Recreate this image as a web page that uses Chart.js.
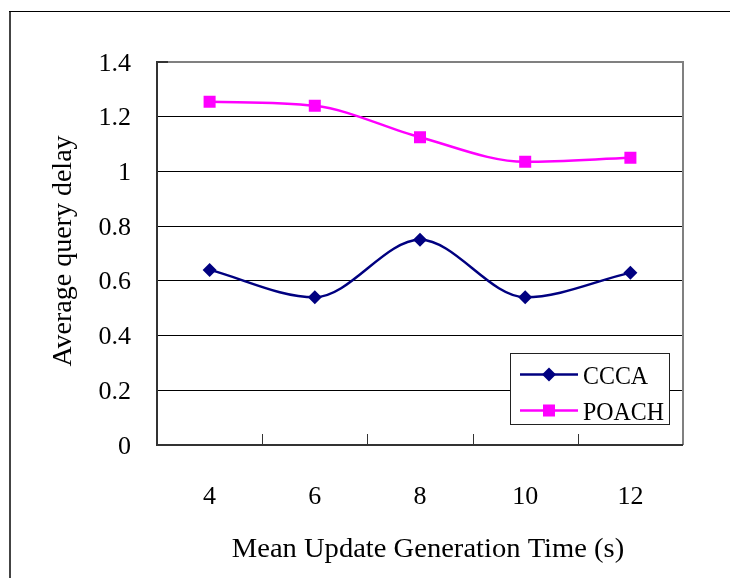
<!DOCTYPE html>
<html>
<head>
<meta charset="utf-8">
<script src="https://cdn.jsdelivr.net/npm/chart.js@4/dist/chart.umd.min.js"></script>
<style>
html,body{margin:0;padding:0;background:#fff;}
#wrap{position:relative;width:730px;height:578px;}
canvas{display:block;}
</style>
</head>
<body>
<div id="wrap"><canvas id="c" width="730" height="578"></canvas></div>
<script>
// ---- data ----
const categories = ['4', '6', '8', '10', '12'];
const cccaValues = [0.64, 0.54, 0.75, 0.54, 0.63];
const poachValues = [1.255, 1.24, 1.125, 1.035, 1.05];
const seriesNames = ['CCCA', 'POACH'];
const xTitle = 'Mean Update Generation Time (s)';
const yTitle = 'Average query delay';
const yMin = 0, yMax = 1.4, yStep = 0.2;

const FONT = '"Liberation Serif", "Times New Roman", serif';

function stretchText(ctx, text, x, y, sx, size, align, rot) {
  ctx.save();
  ctx.translate(x, y);
  if (rot) ctx.rotate(rot);
  ctx.scale(sx, 1);
  ctx.font = size + 'px ' + FONT;
  ctx.fillStyle = '#000';
  ctx.textAlign = align;
  ctx.textBaseline = 'alphabetic';
  ctx.fillText(text, 0, 0);
  ctx.restore();
}

const framePlugin = {
  id: 'frame',
  beforeDatasetsDraw(chart) {
    const {ctx, chartArea: a, scales: {x, y}} = chart;
    ctx.save();
    // outer frame (left + top)
    ctx.fillStyle = '#444';
    ctx.fillRect(9, 11, 2, 578 - 11);
    ctx.fillStyle = '#000';
    ctx.fillRect(9, 11, 730 - 9, 1);
    // plot area border
    ctx.fillStyle = '#808080';
    ctx.fillRect(a.left - 1, a.top - 1, a.right - a.left + 1, 2);
    ctx.fillRect(a.right - 1, a.top - 1, 2, a.bottom - a.top + 1);
    ctx.fillStyle = '#333';
    ctx.fillRect(a.left - 1, a.top - 1, 2, a.bottom - a.top + 1);
    ctx.fillRect(a.left - 1, a.bottom - 1, a.right - a.left + 1, 2);
    // inward y tick at top
    ctx.fillRect(a.left - 1, a.top - 1, 12, 2);
    // inward x ticks at category boundaries
    ctx.strokeStyle = '#333';
    ctx.lineWidth = 1;
    for (let i = 0; i < categories.length - 1; i++) {
      const bx = Math.round((x.getPixelForValue(i) + x.getPixelForValue(i + 1)) / 2) + 0.5;
      ctx.beginPath();
      ctx.moveTo(bx, a.bottom);
      ctx.lineTo(bx, a.bottom - 11);
      ctx.stroke();
    }
    ctx.restore();
  },
  afterDraw(chart) {
    const {ctx, chartArea: a, scales: {x, y}} = chart;
    // y tick labels
    y.ticks.forEach((t, i) => {
      const lab = String(+Number(t.value).toFixed(1));
      stretchText(ctx, lab, 131, y.getPixelForTick(i) + 8.5, 1.0, 26, 'right');
    });
    // x tick labels
    categories.forEach((c, i) => {
      stretchText(ctx, c, x.getPixelForValue(i), 503.5, 1.0, 26, 'center');
    });
    // axis titles
    stretchText(ctx, chart.options.scales.x.title.text, 428, 557, 1.02, 28, 'center');
    stretchText(ctx, chart.options.scales.y.title.text, 71, 251, 1.0, 28, 'center', -Math.PI / 2);

    // legend
    ctx.save();
    ctx.fillStyle = '#fff';
    ctx.fillRect(511, 353, 159, 72);
    ctx.strokeStyle = '#222';
    ctx.lineWidth = 1;
    ctx.strokeRect(510.5, 353.5, 159, 71);
    chart.data.datasets.forEach((ds, i) => {
      const ry = 374.5 + i * 36;
      ctx.strokeStyle = ds.borderColor;
      ctx.lineWidth = ds.borderWidth;
      ctx.beginPath();
      ctx.moveTo(520, ry);
      ctx.lineTo(578, ry);
      ctx.stroke();
      ctx.fillStyle = ds.pointBackgroundColor;
      ctx.strokeStyle = ds.pointBorderColor;
      Chart.helpers.drawPoint(ctx, {pointStyle: ds.pointStyle, radius: ds.pointRadius, rotation: 0, borderWidth: 0}, 549, ry);
      stretchText(ctx, ds.label, 583, ry + 9, 0.92, 26, 'left');
    });
    ctx.restore();
  }
};

new Chart(document.getElementById('c'), {
  type: 'line',
  data: {
    labels: categories,
    datasets: [
      {
        label: seriesNames[0],
        data: cccaValues,
        borderColor: '#000080',
        backgroundColor: '#000080',
        pointBackgroundColor: '#000080',
        pointBorderColor: '#000080',
        pointStyle: 'rectRot',
        pointRadius: 7,
        pointBorderWidth: 0,
        borderWidth: 2.5,
        cubicInterpolationMode: 'monotone',
        fill: false
      },
      {
        label: seriesNames[1],
        data: poachValues,
        borderColor: '#ff00ff',
        backgroundColor: '#ff00ff',
        pointBackgroundColor: '#ff00ff',
        pointBorderColor: '#ff00ff',
        pointStyle: 'rect',
        pointRadius: 8.5,
        pointBorderWidth: 0,
        borderWidth: 2.5,
        cubicInterpolationMode: 'monotone',
        fill: false
      }
    ]
  },
  options: {
    responsive: false,
    animation: false,
    devicePixelRatio: 1,
    layout: {padding: {left: 157, top: 62, right: 47, bottom: 133}},
    plugins: {legend: {display: false}, tooltip: {enabled: false}},
    scales: {
      x: {
        type: 'category',
        offset: true,
        grid: {display: false, drawTicks: false},
        border: {display: false},
        ticks: {display: false},
        title: {display: false, text: xTitle}
      },
      y: {
        min: yMin,
        max: yMax,
        ticks: {display: false, stepSize: yStep},
        grid: {
          drawTicks: false,
          lineWidth: 1,
          color: (c) => (c.tick && (c.tick.value <= yMin + 1e-9 || c.tick.value >= yMax - 1e-9)) ? 'rgba(0,0,0,0)' : '#000'
        },
        border: {display: false},
        title: {display: false, text: yTitle}
      }
    }
  },
  plugins: [framePlugin]
});
</script>
</body>
</html>
